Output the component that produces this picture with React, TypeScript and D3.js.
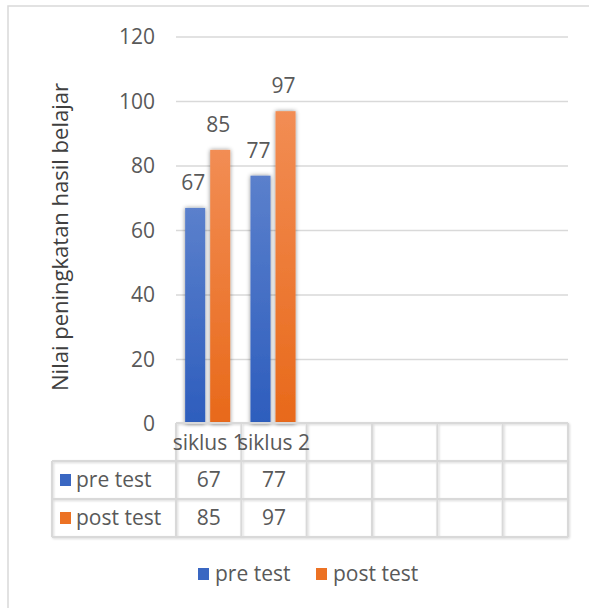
import React from "react";
import * as d3 from "d3";

const categories = ["siklus 1", "siklus 2"];
const tableSlots = ["siklus 1", "siklus 2", "c3", "c4", "c5", "c6"];
const seriesNames = ["pre test", "post test"];
const preTest = [67, 77];
const postTest = [85, 97];
const yTicks = [0, 20, 40, 60, 80, 100, 120];

const W = 589;
const H = 608;
const FONT = "'Open Sans', 'Noto Sans', sans-serif";
const TXT = "#595959";
const GRID = "#d9d9d9";
const FS = 21;

export default function App() {
  const y = d3.scaleLinear().domain([0, 120]).range([424, 37]);
  const tableX = d3.scaleBand<string>().domain(tableSlots).range([176, 568]);
  const bw = tableX.bandwidth();
  const inner = d3.scaleBand<string>().domain(seriesNames).range([bw * 0.14, bw * 0.83]).paddingInner(0.2);
  const values = [preTest, postTest];
  const gradIds = ["gBlue", "gOrange"];
  const legendColors = ["#3a67c2", "#ec7224"];

  const rowTop = [461, 499];
  const rowH = 38;

  return (
    <svg width={W} height={H} style={{ position: "absolute", left: 0, top: 0, background: "#fff" }} fontFamily={FONT}>
      <defs>
        <linearGradient id="gBlue" x1="0" y1="0" x2="0" y2="1">
          <stop offset="0" stopColor="#5b80cc" />
          <stop offset="1" stopColor="#2d5dbd" />
        </linearGradient>
        <linearGradient id="gOrange" x1="0" y1="0" x2="0" y2="1">
          <stop offset="0" stopColor="#f28d54" />
          <stop offset="1" stopColor="#e8691a" />
        </linearGradient>
        <filter id="shadow" x="-50%" y="-20%" width="200%" height="140%">
          <feDropShadow dx="0" dy="0" stdDeviation="2" floodColor="#000" floodOpacity="0.45" />
        </filter>
        <filter id="tshadow" x="-5%" y="-5%" width="110%" height="110%">
          <feDropShadow dx="1" dy="1" stdDeviation="1" floodColor="#000" floodOpacity="0.15" />
        </filter>
      </defs>

      <rect x={8} y={6} width={W} height={H} fill="#fff" stroke={GRID} strokeWidth={1.5} />

      {/* gridlines and ticks */}
      {yTicks.map((t) => (
        <g key={t}>
          {t > 0 && <line x1={176} x2={568} y1={y(t)} y2={y(t)} stroke={GRID} strokeWidth={1.3} />}
          <text x={155} y={y(t)} dy="0.35em" textAnchor="end" fontSize={FS} fill={TXT}>
            {t}
          </text>
        </g>
      ))}

      {/* y axis title */}
      <text transform={`translate(68,237) rotate(-90)`} textAnchor="middle" fontSize={22} fill="#404040">
        Nilai peningkatan hasil belajar
      </text>

      {/* bars */}
      {categories.map((c, ci) => (
        <g key={c}>
          {seriesNames.map((s, si) => {
            const v = values[si][ci];
            const x0 = (tableX(c) as number) + (inner(s) as number);
            return (
              <g key={s}>
                <rect
                  x={x0}
                  y={y(v)}
                  width={inner.bandwidth()}
                  height={y(0) - y(v)}
                  fill={`url(#${gradIds[si]})`}
                  filter="url(#shadow)"
                />
                <text x={x0 + inner.bandwidth() / 2 - 2} y={y(v) - 18} textAnchor="middle" fontSize={FS} fill={TXT}>
                  {v}
                </text>
              </g>
            );
          })}
        </g>
      ))}

      {/* data table */}
      <g stroke={GRID} strokeWidth={2} fill="none" filter="url(#tshadow)">
        <line x1={176} x2={568} y1={423} y2={423} />
        <line x1={52} x2={568} y1={461} y2={461} />
        <line x1={52} x2={568} y1={499} y2={499} />
        <line x1={52} x2={568} y1={537} y2={537} />
        <line x1={52} x2={52} y1={461} y2={537} />
        {tableSlots.map((s) => (
          <line key={s} x1={tableX(s) as number} x2={tableX(s) as number} y1={423} y2={537} />
        ))}
        <line x1={568} x2={568} y1={423} y2={537} />
      </g>
      {categories.map((c) => (
        <text
          key={c}
          x={(tableX(c) as number) + bw / 2}
          y={443}
          dy="0.35em"
          textAnchor="middle"
          fontSize={FS}
          fill={TXT}
        >
          {c}
        </text>
      ))}
      {seriesNames.map((s, si) => (
        <g key={s}>
          <rect x={60} y={rowTop[si] + rowH / 2 - 6} width={11} height={12} fill={legendColors[si]} />
          <text x={76} y={rowTop[si] + rowH / 2} dy="0.35em" fontSize={FS} fill={TXT}>
            {s}
          </text>
          {categories.map((c, ci) => (
            <text
              key={c}
              x={(tableX(c) as number) + bw / 2}
              y={rowTop[si] + rowH / 2}
              dy="0.35em"
              textAnchor="middle"
              fontSize={FS}
              fill={TXT}
            >
              {values[si][ci]}
            </text>
          ))}
        </g>
      ))}

      {/* bottom legend */}
      {seriesNames.map((s, si) => {
        const lx = [198, 316][si];
        return (
          <g key={s}>
            <rect x={lx} y={568} width={11} height={12} fill={legendColors[si]} />
            <text x={lx + 17} y={574} dy="0.35em" fontSize={FS} fill={TXT}>
              {s}
            </text>
          </g>
        );
      })}
    </svg>
  );
}
